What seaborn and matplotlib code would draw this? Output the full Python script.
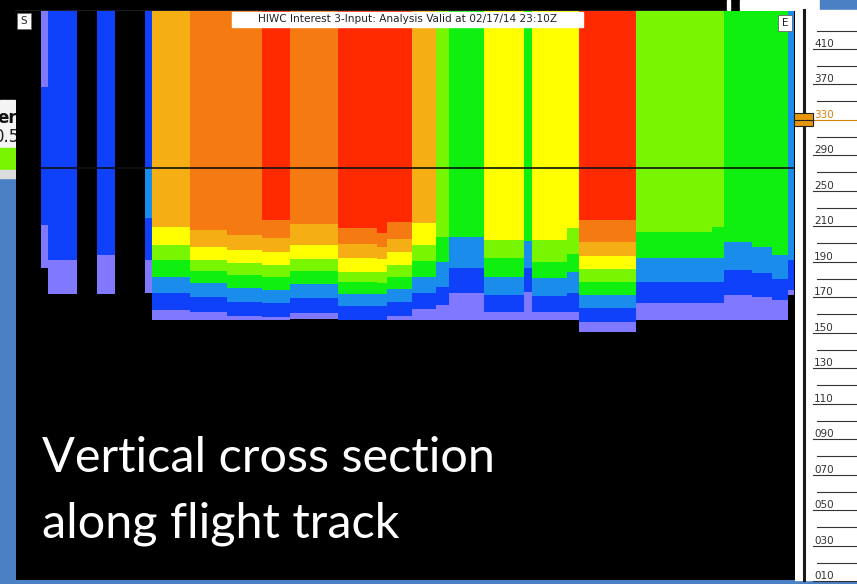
import numpy as np
import pandas as pd
import seaborn as sns
import matplotlib.pyplot as plt
from matplotlib.colors import ListedColormap
from matplotlib.patches import Rectangle

W, H = 857, 584

# interest classes: 0 = no data, then low -> high interest
class_colors = ["#000000", "#8078ff", "#0f40fa", "#1a8ceb", "#10f010",
                "#78f500", "#ffff00", "#f5af14", "#f57a12", "#ff2a00"]

# along-track columns (display units) and the class stack in each one, top to bottom
track_start = [41, 48, 97, 145, 152, 190, 227, 262, 290, 338, 377, 387, 412,
               436, 449, 484, 524, 532, 567, 579, 636, 712, 724, 752, 772, 788]
track_end = [48, 77, 115, 152, 190, 227, 262, 290, 338, 377, 387, 412, 436,
             449, 484, 524, 532, 567, 579, 636, 712, 724, 752, 772, 788, 794]
column_classes = [
    [1, 2, 1], [2, 1], [2, 1], [2, 3, 2, 1],
    [7, 6, 5, 4, 3, 2, 1], [8, 7, 6, 5, 4, 3, 2, 1], [8, 7, 6, 5, 4, 3, 2, 1],
    [9, 8, 7, 6, 5, 4, 3, 2, 1], [8, 7, 6, 5, 4, 3, 2, 1],
    [9, 8, 7, 6, 5, 4, 3, 2], [9, 8, 7, 6, 5, 4, 3, 2],
    [9, 8, 7, 6, 5, 4, 3, 2, 1], [7, 6, 5, 4, 3, 2, 1],
    [5, 4, 3, 2, 1], [4, 3, 2, 1], [6, 5, 4, 3, 2, 1], [4, 3, 2, 1],
    [6, 5, 4, 3, 2, 1], [6, 5, 4, 3, 2, 1], [9, 8, 7, 6, 5, 4, 3, 2, 1],
    [5, 4, 3, 2, 1], [5, 4, 3, 2, 1], [4, 3, 2, 1], [4, 3, 2, 1], [4, 3, 2, 1],
    [3, 2, 1]]
column_bottoms = [
    [87, 225, 268], [260, 294], [255, 294], [168, 218, 260, 293],
    [227, 245, 260, 277, 293, 310, 320], [230, 247, 260, 271, 283, 297, 312, 320],
    [235, 250, 263, 275, 288, 302, 316, 320],
    [220, 238, 252, 265, 277, 290, 303, 317, 320],
    [224, 245, 259, 271, 284, 298, 313, 319],
    [228, 244, 258, 272, 282, 294, 306, 320], [233, 247, 259, 272, 283, 294, 306, 320],
    [222, 239, 252, 265, 277, 289, 302, 316, 320],
    [223, 245, 261, 277, 293, 309, 320],
    [237, 262, 287, 305, 320], [237, 268, 293, 320],
    [240, 258, 277, 295, 312, 320], [241, 268, 292, 320],
    [240, 262, 278, 296, 312, 320], [228, 254, 272, 293, 312, 320],
    [220, 242, 256, 269, 282, 295, 308, 322, 332],
    [232, 258, 282, 303, 320], [227, 258, 282, 303, 320],
    [242, 270, 295, 320], [247, 273, 297, 320], [255, 279, 300, 320],
    [260, 290, 295]]

flight_levels = ["410", "370", "330", "290", "250", "210", "190", "170",
                 "150", "130", "110", "090", "070", "050", "030", "010"]
selected_level = "330"
title = "HIWC Interest 3-Input: Analysis Valid at 02/17/14 23:10Z"

# frame of the cross-section window
left, right, top, bottom = 16, 795, 11, 580

grid = np.zeros((bottom - top, right - left), dtype=int)
for x0, x1, classes, bots in zip(track_start, track_end, column_classes, column_bottoms):
    y = top
    for c, b in zip(classes, bots):
        grid[y - top:b - top, x0 - left:x1 - left] = c
        y = b
section = pd.DataFrame(grid)

fig = plt.figure(figsize=(W / 100, H / 100), dpi=100, facecolor="black")

# background: screen pieces around the window
bg = fig.add_axes([0, 0, 1, 1], zorder=0)
bg.set_xlim(0, W)
bg.set_ylim(H, 0)
bg.axis("off")
bg.add_patch(Rectangle((0, 0), W, H, color="black"))
bg.add_patch(Rectangle((0, 178), 15, H - 178, color="#4a80c4"))
bg.add_patch(Rectangle((0, 580), W, 4, color="#4a80c4"))
bg.add_patch(Rectangle((0, 100), 15, 48, color="#f4f4f4"))
bg.add_patch(Rectangle((0, 148), 15, 22, color="#78f500"))
bg.add_patch(Rectangle((0, 170), 15, 8, color="#dcdcdc"))
clip = Rectangle((0, 100), 15, 48, transform=bg.transData)
t1 = bg.text(17, 118, "er", ha="right", va="center", fontsize=12, fontweight="bold", color="#111")
t2 = bg.text(20, 137, "0.5", ha="right", va="center", fontsize=12, color="#222")
t1.set_clip_path(clip)
t2.set_clip_path(clip)
bg.add_patch(Rectangle((740, 0), 80, 10, color="white"))
bg.add_patch(Rectangle((727, 0), 3, 10, color="white"))
bg.add_patch(Rectangle((820, 0), W - 820, 10, color="#4a80c4"))
bg.plot([16, 727], [10.5, 10.5], color="#9a9a9a", lw=1)

# right-hand flight level scale
bg.add_patch(Rectangle((795, 10), W - 795, 570, color="white"))
bg.plot([804, 804], [10, 580], color="#1a1a1a", lw=2.2)
label_y = np.linspace(44, 576, len(flight_levels))
for fl, y in zip(flight_levels, label_y):
    col = "#d9820a" if fl == selected_level else "#333333"
    bg.plot([817, W], [y - 13.5, y - 13.5], color="#333333", lw=0.8)
    bg.plot([813, W], [y + 5, y + 5], color=col, lw=0.8)
    bg.text(814, y, fl, ha="left", va="center", fontsize=7.5, color=col)

# cross section itself
hm = fig.add_axes([left / W, 1 - bottom / H, (right - left) / W, (bottom - top) / H], zorder=1)
sns.heatmap(section, ax=hm, cmap=ListedColormap(class_colors), vmin=-0.5, vmax=9.5,
            cbar=False, xticklabels=False, yticklabels=False, rasterized=True)
hm.axis("off")

# overlay: flight altitude line, labels
ov = fig.add_axes([0, 0, 1, 1], zorder=2)
ov.set_xlim(0, W)
ov.set_ylim(H, 0)
ov.axis("off")
ov.patch.set_alpha(0)
ov.plot([40, 793], [168, 168], color="#111111", lw=1.2)
ov.add_patch(Rectangle((232, 12), 351, 15, color="white"))
ov.text(407.5, 19.5, title, ha="center", va="center", fontsize=7.6, color="#222")
ov.add_patch(Rectangle((17, 13), 14, 16, facecolor="white", edgecolor="#666", lw=0.6))
ov.text(24, 21, "S", ha="center", va="center", fontsize=7.5, color="#222")
ov.add_patch(Rectangle((778, 15), 14, 16, facecolor="white", edgecolor="#666", lw=0.6))
ov.text(785, 23, "E", ha="center", va="center", fontsize=7.5, color="#222")
ov.add_patch(Rectangle((794, 113), 19, 13, facecolor="#e6960a", edgecolor="#222", lw=0.8))
ov.plot([794, 813], [119.5, 119.5], color="#222", lw=0.8)

ov.text(42, 472, "Vertical cross section", ha="left", va="baseline",
        fontsize=35, color="white", family=["Lato", "DejaVu Sans"])
ov.text(42, 537, "along flight track", ha="left", va="baseline",
        fontsize=35, color="white", family=["Lato", "DejaVu Sans"])

fig.savefig("out.png", dpi=100, facecolor="black")
